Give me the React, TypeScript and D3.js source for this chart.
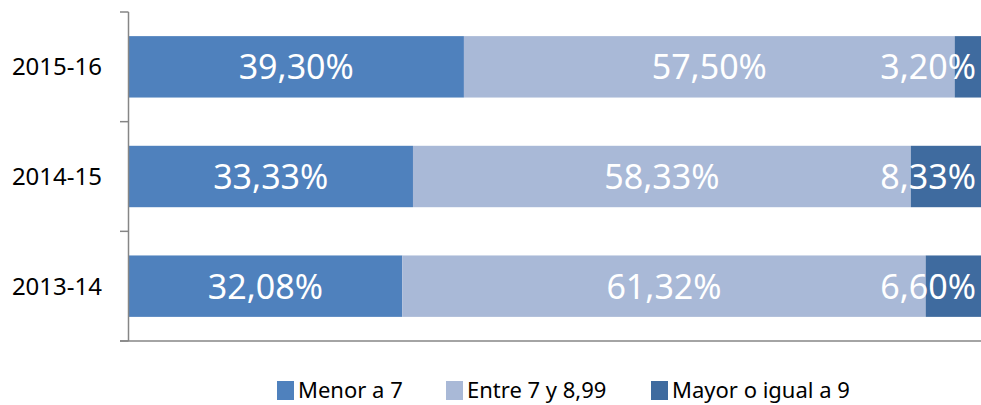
import React, { useEffect, useRef } from 'react';
import * as d3 from 'd3';

const years = ['2015-16', '2014-15', '2013-14'];
const seriesNames = ['Menor a 7', 'Entre 7 y 8,99', 'Mayor o igual a 9'];
const menor = [39.3, 33.33, 32.08];
const entre = [57.5, 58.33, 61.32];
const mayor = [3.2, 8.33, 6.6];
const colors = ['#4F81BD', '#A9B9D7', '#3F6B9F'];

const W = 981;
const H = 405;
const FONT = '"Noto Sans", "Open Sans", sans-serif';

const fmt = (v: number) => v.toFixed(2).replace('.', ',') + '%';

const App = () => {
  const svgRef = useRef<SVGSVGElement>(null);

  useEffect(() => {
    const svg = d3.select(svgRef.current);
    svg.selectAll('*').remove();

    const x0 = 128.5;
    const x1 = 982;
    const yTop = 12;
    const yBottom = 341;

    const x = d3.scaleLinear().domain([0, 100]).range([x0, x1]);
    const y = d3.scaleBand<string>()
      .domain(years)
      .range([yTop, yBottom])
      .paddingInner(0.44)
      .paddingOuter(0.22);

    const rows = years.map((yr, i) => ({ yr, vals: [menor[i], entre[i], mayor[i]] }));
    const stacked = d3.stack<any>()
      .keys(['0', '1', '2'])
      .value((d, k) => d.vals[+k])(rows);

    const g = svg.append('g');

    // bars
    stacked.forEach((layer, si) => {
      g.selectAll(`.bar${si}`)
        .data(layer)
        .enter().append('rect')
        .attr('x', d => x(d[0]))
        .attr('y', d => y(d.data.yr)!)
        .attr('width', d => x(d[1]) - x(d[0]))
        .attr('height', y.bandwidth())
        .attr('fill', colors[si]);
    });

    // labels, kept inside the plot on the right
    const maxRight = 976;
    stacked.forEach(layer => {
      layer.forEach(d => {
        const cx = (x(d[0]) + x(d[1])) / 2;
        const cy = y(d.data.yr)! + y.bandwidth() / 2;
        const t = g.append('text')
          .attr('x', cx)
          .attr('y', cy + 12.5)
          .attr('text-anchor', 'middle')
          .attr('fill', '#ffffff')
          .style('font-family', FONT)
          .style('font-size', '34px')
          .text(fmt(d[1] - d[0]));
        const w = (t.node() as SVGTextElement).getComputedTextLength();
        if (cx + w / 2 > maxRight) {
          t.attr('x', maxRight).attr('text-anchor', 'end');
        }
      });
    });

    // axis
    const axisColor = '#868686';
    g.append('line')
      .attr('x1', x0).attr('x2', x0)
      .attr('y1', yTop).attr('y2', yBottom)
      .attr('stroke', axisColor).attr('stroke-width', 1.5);
    g.append('line')
      .attr('x1', 120).attr('x2', W)
      .attr('y1', yBottom).attr('y2', yBottom)
      .attr('stroke', axisColor).attr('stroke-width', 1.5);
    const step = y.step();
    g.selectAll('.tick')
      .data(d3.range(years.length + 1))
      .enter().append('line')
      .attr('x1', 120).attr('x2', x0)
      .attr('y1', i => yTop + i * step)
      .attr('y2', i => yTop + i * step)
      .attr('stroke', axisColor).attr('stroke-width', 1.5);

    g.selectAll('.ylab')
      .data(years)
      .enter().append('text')
      .attr('x', 102)
      .attr('y', d => y(d)! + y.bandwidth() / 2 + 8.5)
      .attr('text-anchor', 'end')
      .attr('fill', '#000')
      .style('font-family', FONT)
      .style('font-size', '24px')
      .text(d => d);

    // legend
    const legendX = [277, 446, 651];
    const lg = g.selectAll('.legend')
      .data(seriesNames)
      .enter().append('g')
      .attr('transform', (d, i) => `translate(${legendX[i]},381)`);
    lg.append('rect')
      .attr('width', 17).attr('height', 19)
      .attr('fill', (d, i) => colors[i]);
    lg.append('text')
      .attr('x', 21)
      .attr('y', 17)
      .attr('fill', '#000')
      .style('font-family', FONT)
      .style('font-size', '22px')
      .text(d => d);
  }, []);

  return (
    <svg ref={svgRef} width={W} height={H}
      style={{ position: 'absolute', left: 0, top: 0, background: '#fff' }} />
  );
};

export default App;
